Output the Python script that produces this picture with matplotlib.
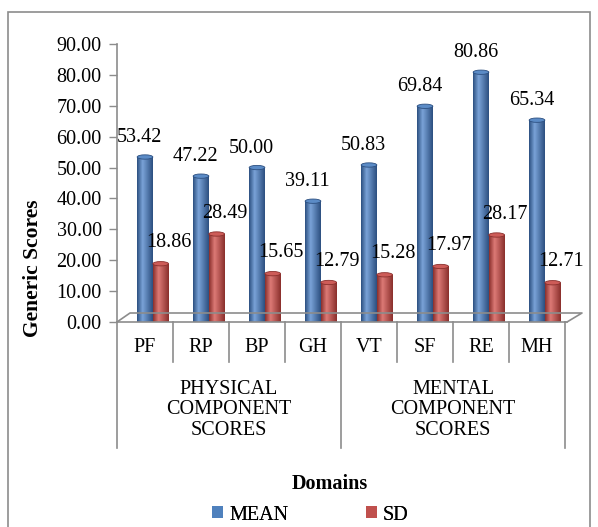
import numpy as np
import matplotlib
matplotlib.use("Agg")
import matplotlib.pyplot as plt
from matplotlib.patches import Ellipse, Rectangle
import matplotlib.transforms as mtransforms

# 数据
domains = ["PF", "RP", "BP", "GH", "VT", "SF", "RE", "MH"]
groups = ["PHYSICAL\nCOMPONENT\nSCORES", "MENTAL\nCOMPONENT\nSCORES"]
mean_vals = [53.42, 47.22, 50.00, 39.11, 50.83, 69.84, 80.86, 65.34]
sd_vals = [18.86, 28.49, 15.65, 12.79, 15.28, 17.97, 28.17, 12.71]
series_names = ["MEAN", "SD"]
yticks = [0, 10, 20, 30, 40, 50, 60, 70, 80, 90]

plt.rcParams['font.family'] = ['Liberation Serif', 'DejaVu Serif']
W, H = 598, 527
fs = 14.5
fig = plt.figure(figsize=(W / 100, H / 100), dpi=100)
ax = fig.add_axes([117 / W, (H - 322) / H, 448 / W, 278 / H])

gray = "#8c8c8c"
blue = "#4f81bd"
red = "#c0504d"
bw = 0.28


def cylinder(bars, base, dark, light):
    t = np.linspace(0, 1, 64)
    prof = np.interp(t, [0, 0.35, 1], [0, 1, 0])
    c0 = np.array(matplotlib.colors.to_rgb(dark))
    c1 = np.array(matplotlib.colors.to_rgb(light))
    img = (c0[None, :] * (1 - prof[:, None]) + c1[None, :] * prof[:, None])[None, :, :]
    for b in bars:
        x, w, h = b.get_x(), b.get_width(), b.get_height()
        im = ax.imshow(img, extent=[x, x + w, 0, h], aspect="auto", zorder=2)
        im.set_clip_path(b)
        ax.add_patch(Ellipse((x + w / 2, h), w, 1.4, facecolor=base,
                             edgecolor=dark, lw=0.6, zorder=3))


x = np.arange(len(domains))
b1 = ax.bar(x, mean_vals, bw, color=blue, zorder=1, label=series_names[0])
b2 = ax.bar(x + bw, sd_vals, bw, color=red, zorder=1, label=series_names[1])
cylinder(b1, "#5b8bc6", "#2c4f80", "#7aa3d8")
cylinder(b2, "#cd5c58", "#8a2f2c", "#dc7a76")

# 数值标签
for xi, v in zip(x, mean_vals):
    ax.annotate(f"{v:.2f}", (xi, v), xytext=(-4, 14), textcoords="offset points",
                ha="center", va="center", fontsize=fs, zorder=5)
for xi, v in zip(x + bw, sd_vals):
    ax.annotate(f"{v:.2f}", (xi, v), xytext=(6, 15), textcoords="offset points",
                ha="center", va="center", fontsize=fs, zorder=5)

ax.set_xlim(-0.5, 7.5)
ax.set_ylim(0, 90)
ax.set_yticks(yticks)
ax.set_yticklabels([f"{t:.2f}" for t in yticks], fontsize=fs)
ax.set_xticks([])
ax.tick_params(axis="y", length=6, color=gray, width=1, pad=5)
for s in ["top", "right"]:
    ax.spines[s].set_visible(False)
for s in ["left", "bottom"]:
    ax.spines[s].set_color(gray)
    ax.spines[s].set_linewidth(1.2)

# 3D 地板
ax.plot([0, 13 / 448, 465 / 448, 450 / 448], [0, 9 / 278, 9 / 278, 0],
        transform=ax.transAxes, color=gray, lw=1.2, clip_on=False)
ax.plot([1, 450 / 448], [0, 0], transform=ax.transAxes, color=gray, lw=1.2, clip_on=False)

# 分类轴
trans = mtransforms.blended_transform_factory(ax.transData, ax.transAxes)
for i in range(len(domains) + 1):
    xs = i - 0.5
    low = -126 / 278 if i in (0, 4, 8) else -40 / 278
    ax.plot([xs, xs], [0, low], transform=trans, color=gray, lw=1.2, clip_on=False)
for xi, d in zip(x, domains):
    ax.text(xi, -26 / 278, d, transform=trans, ha="center", va="center", fontsize=fs)
for gi, g in enumerate(groups):
    ax.text(gi * 4 + 1.5, -88 / 278, g, transform=trans, ha="center", va="center",
            fontsize=fs, linespacing=1.12)

fig.text(33 / W, 1 - 268 / H, "Generic Scores", rotation=90, ha="center", va="center",
         fontsize=15.5, fontweight="bold")
fig.text(330 / W, 1 - 484 / H, "Domains", ha="center", va="center",
         fontsize=fs, fontweight="bold")

# 图例
for b, name, xl in [(b1, series_names[0], 212), (b2, series_names[1], 366)]:
    lg = fig.legend(handles=[b], labels=[name], loc="center left",
                    bbox_to_anchor=(xl / W, 1 - 515 / H), frameon=False, fontsize=fs,
                    handlelength=0.55, handleheight=0.55, handletextpad=0.3,
                    borderpad=0, borderaxespad=0)
    fig.add_artist(lg)

fig.add_artist(Rectangle((8 / W, -0.01), 582 / W, 1 - 12 / H + 0.01, transform=fig.transFigure,
                         fill=False, edgecolor=gray, lw=1.2))

fig.savefig("out.png", dpi=100)
